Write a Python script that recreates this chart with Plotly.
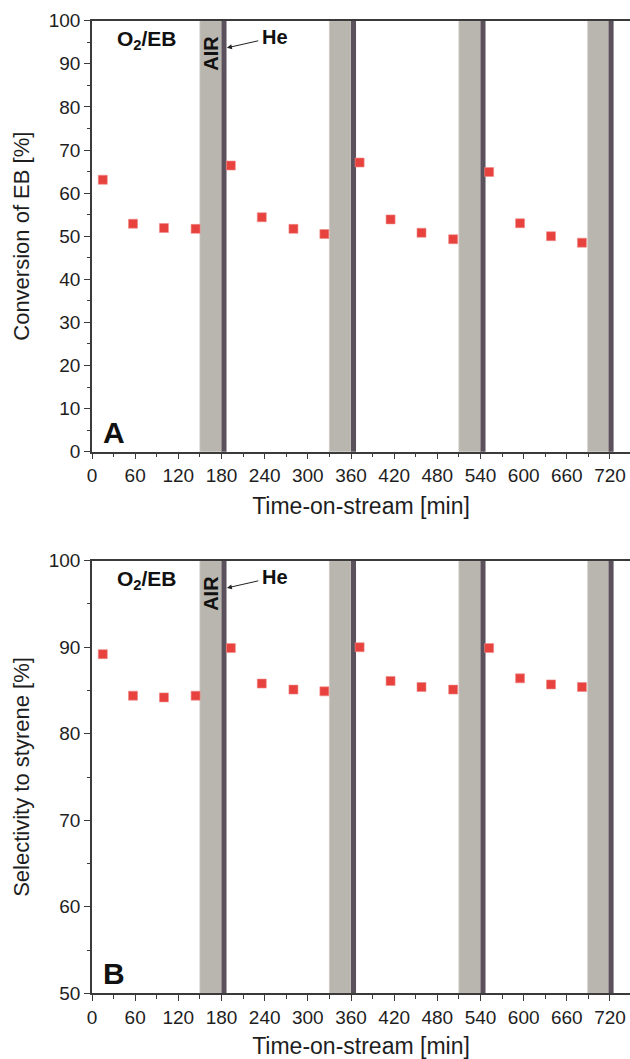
import plotly.graph_objects as go

# Time-on-stream of each sample [min]
time_min = [15, 57, 100, 144, 193, 236, 280, 323, 372, 415, 458, 502, 552, 595, 638, 681]
# Panel A: conversion of ethylbenzene [%]
conversion_eb = [63.1, 52.9, 51.9, 51.7, 66.4, 54.4, 51.7, 50.5,
                 67.1, 53.9, 50.8, 49.3, 64.9, 53.0, 50.0, 48.5]
# Panel B: selectivity to styrene [%]
selectivity_styrene = [89.2, 84.4, 84.2, 84.4, 89.9, 85.8, 85.1, 84.9,
                       90.0, 86.1, 85.4, 85.1, 89.9, 86.4, 85.7, 85.4]

# Regeneration periods: air treatment followed by a short He purge [min]
air_start = [150, 330, 510, 689]
he_start = [180, 360, 540, 718]
he_end = [187, 367, 547, 725]

x_ticks = list(range(0, 721, 60))
ya_ticks = list(range(0, 101, 10))
yb_ticks = list(range(50, 101, 10))

FONT = "Liberation Sans, Arial, sans-serif"
AXIS_COLOR = "#3a3a3a"
TEXT_COLOR = "#1e1e1e"
AIR_COLOR = "#b9b5af"
HE_COLOR = "#5b515c"
MARK_COLOR = "#e8423e"

W, H = 630, 1059
L = 92.4
X_MAX = (W - L) / 0.7189


def dom(top_px, bottom_px):
    return [1 - bottom_px / H, 1 - top_px / H]


fig = go.Figure()

for xa, ya, values in (("x", "y", conversion_eb), ("x2", "y2", selectivity_styrene)):
    fig.add_trace(go.Scatter(
        x=time_min, y=values, mode="markers", xaxis=xa, yaxis=ya,
        marker=dict(symbol="square", size=9, color=MARK_COLOR,
                    line=dict(width=0.6, color="#f08a87")),
        showlegend=False,
    ))

shapes = []
for xr, yr in (("x", "y domain"), ("x2", "y2 domain")):
    for a0, h0, h1 in zip(air_start, he_start, he_end):
        shapes.append(dict(type="rect", xref=xr, yref=yr, x0=a0, x1=h0, y0=0, y1=1,
                           fillcolor=AIR_COLOR, line=dict(width=0.8, color="#cdc9c3"),
                           layer="below"))
        shapes.append(dict(type="rect", xref=xr, yref=yr, x0=h0, x1=h1, y0=0, y1=1,
                           fillcolor=HE_COLOR, line=dict(width=0),
                           layer="below"))

xaxis_common = dict(
    range=[0, X_MAX], tickmode="array", tickvals=x_ticks,
    ticks="outside", ticklen=6, tickwidth=1.3, tickcolor=AXIS_COLOR,
    showline=True, linecolor=AXIS_COLOR, linewidth=1.5, mirror=True,
    showgrid=False, zeroline=False,
    minor=dict(dtick=30, tick0=0, ticks="outside", ticklen=3.5, tickwidth=1.1,
               tickcolor=AXIS_COLOR, showgrid=False),
    tickfont=dict(family=FONT, size=19, color=TEXT_COLOR),
    title=dict(text="Time-on-stream [min]", font=dict(family=FONT, size=23, color=TEXT_COLOR),
               standoff=13),
    automargin=False,
)
yaxis_common = dict(
    ticks="outside", ticklen=6, tickwidth=1.3, tickcolor=AXIS_COLOR,
    showline=True, linecolor=AXIS_COLOR, linewidth=1.5,
    showgrid=False, zeroline=False,
    minor=dict(dtick=5, ticks="outside", ticklen=3.5, tickwidth=1.1,
               tickcolor=AXIS_COLOR, showgrid=False),
    tickfont=dict(family=FONT, size=19, color=TEXT_COLOR),
    automargin=False,
)

fig.update_layout(
    width=W, height=H,
    margin=dict(l=L, r=0, t=0, b=0),
    paper_bgcolor="white", plot_bgcolor="white",
    shapes=shapes,
    xaxis=dict(**xaxis_common, anchor="y", domain=[0, 1]),
    xaxis2=dict(**xaxis_common, anchor="y2", domain=[0, 1]),
    yaxis=dict(**yaxis_common, anchor="x", domain=dom(20.7, 451.7),
               range=[0, 100], tickvals=ya_ticks,
               minor_tick0=0,
               title=dict(text="Conversion of EB [%]",
                          font=dict(family=FONT, size=22, color=TEXT_COLOR), standoff=13)),
    yaxis2=dict(**yaxis_common, anchor="x2", domain=dom(560.7, 993.3),
                range=[50, 100], tickvals=yb_ticks,
                minor_tick0=50,
                title=dict(text="Selectivity to styrene [%]",
                           font=dict(family=FONT, size=22, color=TEXT_COLOR), standoff=13)),
)

annotations = []
for xr, yr, letter in (("x", "y", "A"), ("x2", "y2", "B")):
    annotations += [
        dict(xref=f"{xr} domain", yref=f"{yr} domain", x=0.042, y=0.955,
             text="<b>O<sub>2</sub>/EB</b>", showarrow=False, xanchor="left", yanchor="middle",
             font=dict(family=FONT, size=21, color="#111")),
        dict(xref=xr, yref=f"{yr} domain", x=165, y=0.925,
             text="<b>AIR</b>", textangle=-90, showarrow=False,
             xanchor="center", yanchor="middle",
             font=dict(family=FONT, size=20, color="#111")),
        # "He" label with its arrow pointing at the purge band
        dict(xref=xr, yref=f"{yr} domain", x=187.5, y=0.937,
             axref=xr, ayref=f"{yr} domain", ax=254, ay=0.962,
             text="<b>He</b>", showarrow=True, arrowhead=2, arrowsize=1, arrowwidth=1,
             arrowcolor="#222", standoff=0, borderpad=3,
             font=dict(family=FONT, size=20, color="#111")),
        dict(xref=f"{xr} domain", yref=f"{yr} domain", x=0.016, y=0.045,
             text=f"<b>{letter}</b>", showarrow=False, xanchor="left", yanchor="middle",
             font=dict(family=FONT, size=30, color="#111")),
    ]
fig.update_layout(annotations=annotations)

fig.write_html("out.html")
